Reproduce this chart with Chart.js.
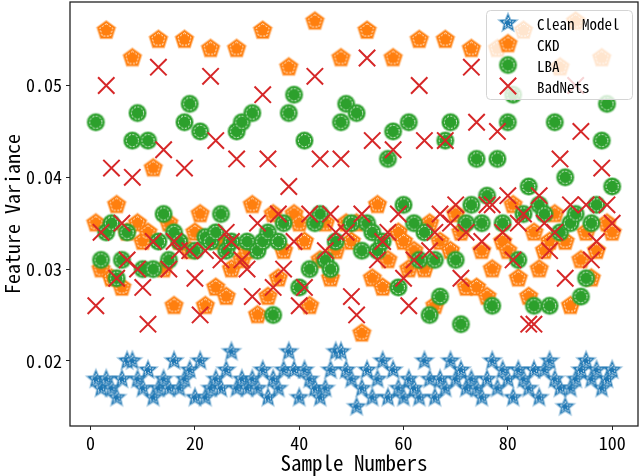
<!DOCTYPE html>
<html>
<head>
<meta charset="utf-8">
<title>Feature Variance</title>
<script src="https://cdn.jsdelivr.net/npm/chart.js@4.4.1/dist/chart.umd.min.js"></script>
<style>
  html, body { margin: 0; padding: 0; background: #fff; }
</style>
</head>
<body>
<canvas id="chart" width="640" height="476"></canvas>
<script>
// --- data ---
const sampleNumbers = [1, 2, 3, 4, 5, 6, 7, 8, 9, 10, 11, 12, 13, 14, 15, 16, 17, 18, 19, 20,
  21, 22, 23, 24, 25, 26, 27, 28, 29, 30, 31, 32, 33, 34, 35, 36, 37, 38, 39, 40,
  41, 42, 43, 44, 45, 46, 47, 48, 49, 50, 51, 52, 53, 54, 55, 56, 57, 58, 59, 60,
  61, 62, 63, 64, 65, 66, 67, 68, 69, 70, 71, 72, 73, 74, 75, 76, 77, 78, 79, 80,
  81, 82, 83, 84, 85, 86, 87, 88, 89, 90, 91, 92, 93, 94, 95, 96, 97, 98, 99, 100];

const cleanModel = [0.018, 0.017, 0.018, 0.017, 0.016, 0.018, 0.020, 0.020, 0.018, 0.017,
  0.019, 0.016, 0.017, 0.018, 0.017, 0.020, 0.017, 0.018, 0.019, 0.016,
  0.020, 0.016, 0.017, 0.018, 0.017, 0.019, 0.021, 0.017, 0.018, 0.017,
  0.018, 0.017, 0.019, 0.016, 0.018, 0.017, 0.019, 0.021, 0.019, 0.016,
  0.019, 0.018, 0.017, 0.016, 0.017, 0.019, 0.021, 0.021, 0.019, 0.018,
  0.015, 0.017, 0.019, 0.016, 0.018, 0.020, 0.016, 0.019, 0.017, 0.016,
  0.018, 0.017, 0.016, 0.020, 0.018, 0.016, 0.018, 0.017, 0.020, 0.018,
  0.019, 0.017, 0.018, 0.017, 0.016, 0.018, 0.020, 0.017, 0.019, 0.018,
  0.016, 0.019, 0.018, 0.017, 0.019, 0.016, 0.019, 0.020, 0.018, 0.017,
  0.015, 0.017, 0.018, 0.019, 0.020, 0.018, 0.019, 0.017, 0.018, 0.019];

const ckd = [0.035, 0.030, 0.056, 0.029, 0.037, 0.028, 0.034, 0.053, 0.035, 0.033,
  0.034, 0.041, 0.055, 0.030, 0.035, 0.026, 0.033, 0.055, 0.032, 0.034,
  0.036, 0.026, 0.054, 0.028, 0.033, 0.027, 0.030, 0.054, 0.031, 0.032,
  0.037, 0.025, 0.056, 0.027, 0.036, 0.029, 0.032, 0.052, 0.036, 0.035,
  0.033, 0.026, 0.057, 0.031, 0.035, 0.029, 0.032, 0.053, 0.035, 0.033,
  0.035, 0.023, 0.056, 0.029, 0.037, 0.028, 0.031, 0.053, 0.034, 0.033,
  0.030, 0.032, 0.055, 0.030, 0.035, 0.026, 0.033, 0.055, 0.032, 0.036,
  0.034, 0.028, 0.054, 0.028, 0.032, 0.027, 0.030, 0.054, 0.033, 0.032,
  0.037, 0.029, 0.056, 0.027, 0.034, 0.030, 0.032, 0.033, 0.036, 0.052,
  0.033, 0.026, 0.057, 0.031, 0.034, 0.029, 0.032, 0.053, 0.035, 0.034];

const lba = [0.046, 0.031, 0.034, 0.035, 0.029, 0.031, 0.034, 0.044, 0.047, 0.030,
  0.044, 0.030, 0.033, 0.036, 0.031, 0.034, 0.033, 0.046, 0.048, 0.032,
  0.045, 0.0335, 0.033, 0.034, 0.036, 0.032, 0.033, 0.045, 0.046, 0.033,
  0.047, 0.032, 0.033, 0.034, 0.025, 0.033, 0.035, 0.047, 0.049, 0.028,
  0.044, 0.030, 0.035, 0.036, 0.031, 0.030, 0.033, 0.046, 0.048, 0.035,
  0.047, 0.032, 0.035, 0.034, 0.032, 0.033, 0.042, 0.045, 0.028, 0.037,
  0.046, 0.035, 0.031, 0.034, 0.025, 0.031, 0.027, 0.044, 0.046, 0.031,
  0.024, 0.035, 0.037, 0.042, 0.035, 0.038, 0.026, 0.042, 0.035, 0.046,
  0.049, 0.031, 0.036, 0.039, 0.026, 0.037, 0.036, 0.026, 0.046, 0.034,
  0.040, 0.035, 0.036, 0.027, 0.029, 0.035, 0.037, 0.044, 0.048, 0.039];

const badNets = [0.026, 0.034, 0.050, 0.041, 0.029, 0.035, 0.031, 0.040, 0.030, 0.028,
  0.024, 0.033, 0.052, 0.043, 0.030, 0.033, 0.032, 0.041, 0.032, 0.029,
  0.025, 0.032, 0.051, 0.044, 0.031, 0.034, 0.033, 0.042, 0.031, 0.030,
  0.027, 0.035, 0.049, 0.042, 0.028, 0.036, 0.030, 0.039, 0.033, 0.026,
  0.028, 0.036, 0.051, 0.042, 0.032, 0.036, 0.034, 0.042, 0.034, 0.027,
  0.025, 0.036, 0.053, 0.044, 0.031, 0.033, 0.034, 0.043, 0.036, 0.029,
  0.026, 0.031, 0.050, 0.044, 0.032, 0.034, 0.036, 0.044, 0.035, 0.037,
  0.029, 0.034, 0.052, 0.046, 0.033, 0.037, 0.037, 0.045, 0.034, 0.038,
  0.031, 0.035, 0.036, 0.024, 0.024, 0.038, 0.035, 0.032, 0.034, 0.042,
  0.029, 0.037, 0.050, 0.045, 0.037, 0.031, 0.033, 0.041, 0.037, 0.035];

const seriesNames = ['Clean Model', 'CKD', 'LBA', 'BadNets'];
const xTicks = [0, 20, 40, 60, 80, 100];
const yTicks = [0.02, 0.03, 0.04, 0.05];

const FONT = "'Noto Sans Mono CJK SC', 'DejaVu Sans Mono', monospace";
const COLORS = ['#1f77b4', '#ff7f0e', '#2ca02c', '#d62728'];

// Builds a marker sprite: filled shape, soft edge, white dashed inner outline
function makeMarker(shape, color, r) {
  const size = Math.ceil(2 * (r + 3));
  const c = document.createElement('canvas');
  c.width = size;
  c.height = size;
  const g = c.getContext('2d');
  const cx = size / 2, cy = size / 2;

  const path = (scale) => {
    g.beginPath();
    if (shape === 'circle') {
      g.arc(cx, cy, r * scale, 0, Math.PI * 2);
    } else {
      const n = shape === 'star' ? 10 : 5;
      for (let k = 0; k < n; k++) {
        const a = -Math.PI / 2 + k * 2 * Math.PI / n;
        const rr = (shape === 'star' && k % 2) ? r * 0.45 * scale : r * scale;
        const px = cx + rr * Math.cos(a), py = cy + rr * Math.sin(a);
        if (k === 0) g.moveTo(px, py); else g.lineTo(px, py);
      }
      g.closePath();
    }
  };

  path(1);
  g.fillStyle = color;
  g.fill();
  g.globalAlpha = 0.45;
  g.lineWidth = 2;
  g.strokeStyle = color;
  g.stroke();
  g.globalAlpha = 1;

  path(shape === 'star' ? 0.62 : 0.72);
  g.setLineDash([2, 1.5]);
  g.lineWidth = 1;
  g.strokeStyle = 'rgba(255,255,255,0.9)';
  g.stroke();
  return c;
}

const starImg = makeMarker('star', COLORS[0], 9);
const pentImg = makeMarker('pentagon', COLORS[1], 9.5);
const circImg = makeMarker('circle', COLORS[2], 8.5);

function toPoints(values) {
  return values.map((v, i) => ({ x: sampleNumbers[i], y: v }));
}

// matplotlib-like 5% margins
const allY = cleanModel.concat(ckd, lba, badNets);
const yLo = Math.min(...allY), yHi = Math.max(...allY);
const yPad = (yHi - yLo) * 0.05;
const xLo = sampleNumbers[0], xHi = sampleNumbers[sampleNumbers.length - 1];
const xPad = (xHi - xLo) * 0.05;

// frame around the plot area
const framePlugin = {
  id: 'frame',
  afterDatasetsDraw(chart) {
    const { ctx, chartArea: a } = chart;
    ctx.save();
    ctx.strokeStyle = '#222';
    ctx.lineWidth = 1.3;
    ctx.strokeRect(a.left, a.top, a.right - a.left, a.bottom - a.top);
    ctx.restore();
  }
};

// legend inset in the upper right corner, like matplotlib's
const insetLegend = {
  id: 'insetLegend',
  afterDraw(chart) {
    const { ctx, chartArea: a } = chart;
    const w = 146, h = 89;
    const x0 = a.right - 6 - w, y0 = a.top + 8;
    ctx.save();
    ctx.beginPath();
    ctx.roundRect(x0 + 0.5, y0 + 0.5, w, h, 4);
    ctx.fillStyle = 'rgba(255,255,255,0.8)';
    ctx.fill();
    ctx.strokeStyle = '#d4d4d4';
    ctx.lineWidth = 1;
    ctx.stroke();

    ctx.font = '15px ' + FONT;
    ctx.textBaseline = 'middle';
    ctx.fillStyle = '#000';
    const mx = x0 + 22;
    chart.data.datasets.forEach((ds, k) => {
      const y = y0 + 13 + k * 21;
      if (ds.pointStyle instanceof HTMLCanvasElement) {
        const img = ds.pointStyle;
        ctx.drawImage(img, mx - img.width / 2, y - img.height / 2);
      } else {
        const d = 8.2;
        ctx.strokeStyle = ds.borderColor;
        ctx.lineWidth = ds.pointBorderWidth;
        ctx.beginPath();
        ctx.moveTo(mx - d, y - d); ctx.lineTo(mx + d, y + d);
        ctx.moveTo(mx - d, y + d); ctx.lineTo(mx + d, y - d);
        ctx.stroke();
      }
      ctx.fillText(seriesNames[k], x0 + 51, y + 1);
    });
    ctx.restore();
  }
};

new Chart(document.getElementById('chart'), {
  type: 'scatter',
  data: {
    datasets: [
      { label: seriesNames[0], data: toPoints(cleanModel), pointStyle: starImg, pointRadius: 9, order: 3 },
      { label: seriesNames[1], data: toPoints(ckd), pointStyle: pentImg, pointRadius: 9, order: 2 },
      { label: seriesNames[2], data: toPoints(lba), pointStyle: circImg, pointRadius: 9, order: 1 },
      {
        label: seriesNames[3], data: toPoints(badNets), pointStyle: 'crossRot',
        pointRadius: 11.6, pointBorderWidth: 2, borderColor: COLORS[3],
        pointBorderColor: COLORS[3], backgroundColor: COLORS[3], order: 0
      }
    ]
  },
  options: {
    responsive: false,
    animation: false,
    events: [],
    layout: { autoPadding: false, padding: { top: 2, right: 2, left: 0, bottom: 0 } },
    plugins: {
      legend: { display: false },
      tooltip: { enabled: false }
    },
    scales: {
      x: {
        type: 'linear',
        min: xLo - xPad,
        max: xHi + xPad,
        afterBuildTicks: (scale) => { scale.ticks = xTicks.map(v => ({ value: v })); },
        afterFit: (scale) => {
          scale.height = 50;
          scale.paddingLeft = 0;
          scale.paddingRight = 0;
        },
        border: { display: false },
        grid: { drawOnChartArea: false, drawTicks: true, tickLength: 4, color: '#222', lineWidth: 1 },
        ticks: { color: '#000', padding: 2, font: { family: FONT, size: 18 }, maxRotation: 0 },
        title: { display: true, text: 'Sample Numbers', color: '#000', padding: { top: 0, bottom: 0 }, font: { family: FONT, size: 21 } }
      },
      y: {
        type: 'linear',
        min: yLo - yPad,
        max: yHi + yPad,
        afterBuildTicks: (scale) => { scale.ticks = yTicks.map(v => ({ value: v })); },
        afterFit: (scale) => {
          scale.width = 70;
          scale.paddingTop = 0;
          scale.paddingBottom = 0;
        },
        border: { display: false },
        grid: { drawOnChartArea: false, drawTicks: true, tickLength: 4, color: '#222', lineWidth: 1 },
        ticks: {
          color: '#000', padding: 4, font: { family: FONT, size: 18 },
          callback: (v) => Number(v).toFixed(2)
        },
        title: { display: true, text: 'Feature Variance', color: '#000', padding: { top: 0, bottom: 0 }, font: { family: FONT, size: 20 } }
      }
    }
  },
  plugins: [framePlugin, insetLegend]
});
</script>
</body>
</html>
